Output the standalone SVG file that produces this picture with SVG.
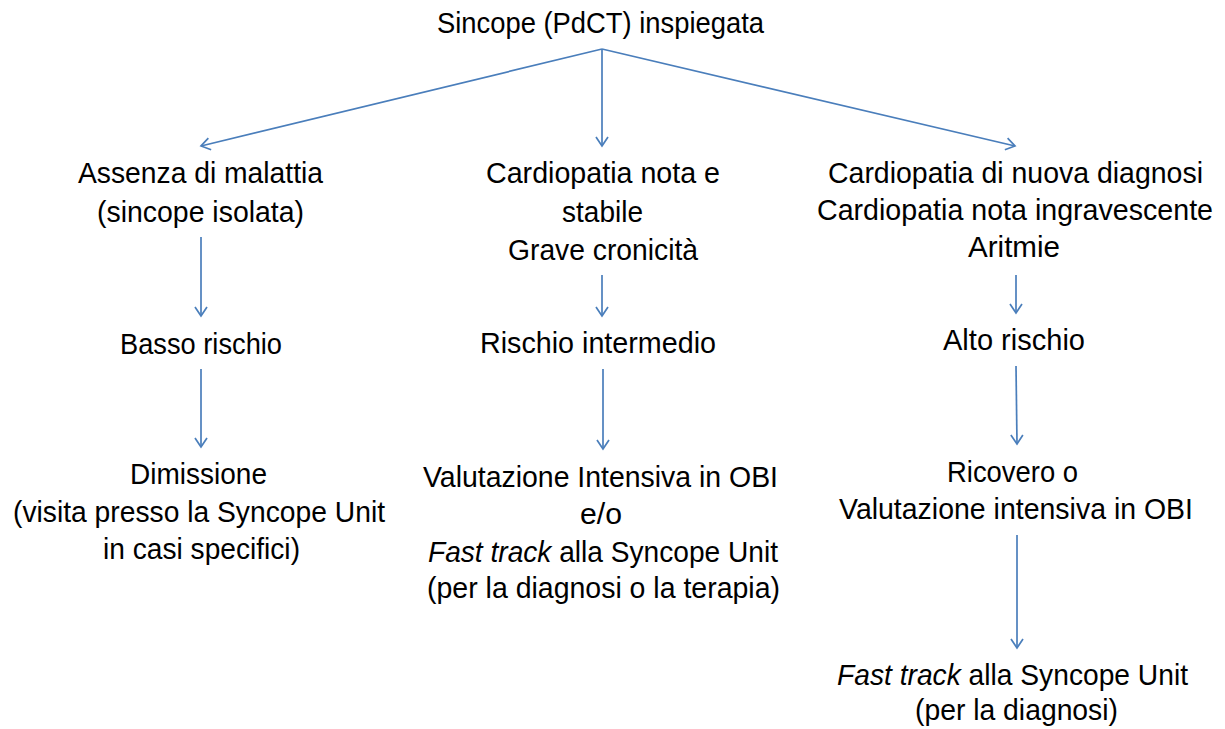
<svg xmlns="http://www.w3.org/2000/svg" width="1225" height="729" viewBox="0 0 1225 729">
<style>
text{font-family:"Liberation Sans",Arial,sans-serif;font-size:29px;fill:#000}
.it{font-style:italic}
.c line{stroke:#4a7ebb;stroke-width:1.7;fill:none}
</style>
<defs>
<marker id="ah" markerUnits="userSpaceOnUse" markerWidth="20" markerHeight="20" viewBox="-12 -10 14 20" refX="0" refY="0" orient="auto">
<path d="M-9,-6 L0,0 L-9,6" fill="none" stroke="#4a7ebb" stroke-width="1.7"/>
</marker>
</defs>
<rect width="1225" height="729" fill="#fff"/>
<g class="c" id="connectors">
<line x1="602" y1="49" x2="201" y2="146" marker-end="url(#ah)"/>
<line x1="602" y1="49" x2="602" y2="146" marker-end="url(#ah)"/>
<line x1="602" y1="49" x2="1015" y2="146" marker-end="url(#ah)"/>
<line x1="201" y1="237" x2="201" y2="316" marker-end="url(#ah)"/>
<line x1="201" y1="369" x2="201" y2="447" marker-end="url(#ah)"/>
<line x1="602" y1="275" x2="602" y2="316" marker-end="url(#ah)"/>
<line x1="603" y1="369" x2="603" y2="449" marker-end="url(#ah)"/>
<line x1="1016" y1="275" x2="1016" y2="313" marker-end="url(#ah)"/>
<line x1="1016" y1="366" x2="1017" y2="444" marker-end="url(#ah)"/>
<line x1="1017" y1="535" x2="1017" y2="648" marker-end="url(#ah)"/>
</g>
<g id="n-root"><text x="437" y="33" textLength="327" lengthAdjust="spacingAndGlyphs">Sincope (PdCT) inspiegata</text></g>
<g id="n-assenza">
<text x="78" y="183" textLength="245" lengthAdjust="spacingAndGlyphs">Assenza di malattia</text>
<text x="97" y="222" textLength="207" lengthAdjust="spacingAndGlyphs">(sincope isolata)</text>
</g>
<g id="n-cardio-stabile">
<text x="486" y="183" textLength="234" lengthAdjust="spacingAndGlyphs">Cardiopatia nota e</text>
<text x="562" y="222" textLength="81" lengthAdjust="spacingAndGlyphs">stabile</text>
<text x="508" y="260" textLength="190" lengthAdjust="spacingAndGlyphs">Grave cronicità</text>
</g>
<g id="n-cardio-nuova">
<text x="828" y="183" textLength="375" lengthAdjust="spacingAndGlyphs">Cardiopatia di nuova diagnosi</text>
<text x="817" y="220" textLength="396" lengthAdjust="spacingAndGlyphs">Cardiopatia nota ingravescente</text>
<text x="968" y="257" textLength="92" lengthAdjust="spacingAndGlyphs">Aritmie</text>
</g>
<g id="n-basso"><text x="120" y="354" textLength="162" lengthAdjust="spacingAndGlyphs">Basso rischio</text></g>
<g id="n-intermedio"><text x="480" y="353" textLength="236" lengthAdjust="spacingAndGlyphs">Rischio intermedio</text></g>
<g id="n-alto"><text x="943" y="350" textLength="142" lengthAdjust="spacingAndGlyphs">Alto rischio</text></g>
<g id="n-dimissione">
<text x="130" y="484" textLength="137" lengthAdjust="spacingAndGlyphs">Dimissione</text>
<text x="13" y="522" textLength="372" lengthAdjust="spacingAndGlyphs">(visita presso la Syncope Unit</text>
<text x="103" y="559" textLength="197" lengthAdjust="spacingAndGlyphs">in casi specifici)</text>
</g>
<g id="n-valutazione">
<text x="423" y="487" textLength="355" lengthAdjust="spacingAndGlyphs">Valutazione Intensiva in OBI</text>
<text x="580" y="524" textLength="42" lengthAdjust="spacingAndGlyphs">e/o</text>
<text x="428" y="562" textLength="350" lengthAdjust="spacingAndGlyphs"><tspan class="it">Fast track</tspan> alla Syncope Unit</text>
<text x="427" y="598" textLength="353" lengthAdjust="spacingAndGlyphs">(per la diagnosi o la terapia)</text>
</g>
<g id="n-ricovero">
<text x="947" y="482" textLength="131" lengthAdjust="spacingAndGlyphs">Ricovero o</text>
<text x="839" y="519" textLength="354" lengthAdjust="spacingAndGlyphs">Valutazione intensiva in OBI</text>
</g>
<g id="n-fasttrack">
<text x="837" y="685" textLength="351" lengthAdjust="spacingAndGlyphs"><tspan class="it">Fast track</tspan> alla Syncope Unit</text>
<text x="915" y="720" textLength="203" lengthAdjust="spacingAndGlyphs">(per la diagnosi)</text>
</g>
</svg>
